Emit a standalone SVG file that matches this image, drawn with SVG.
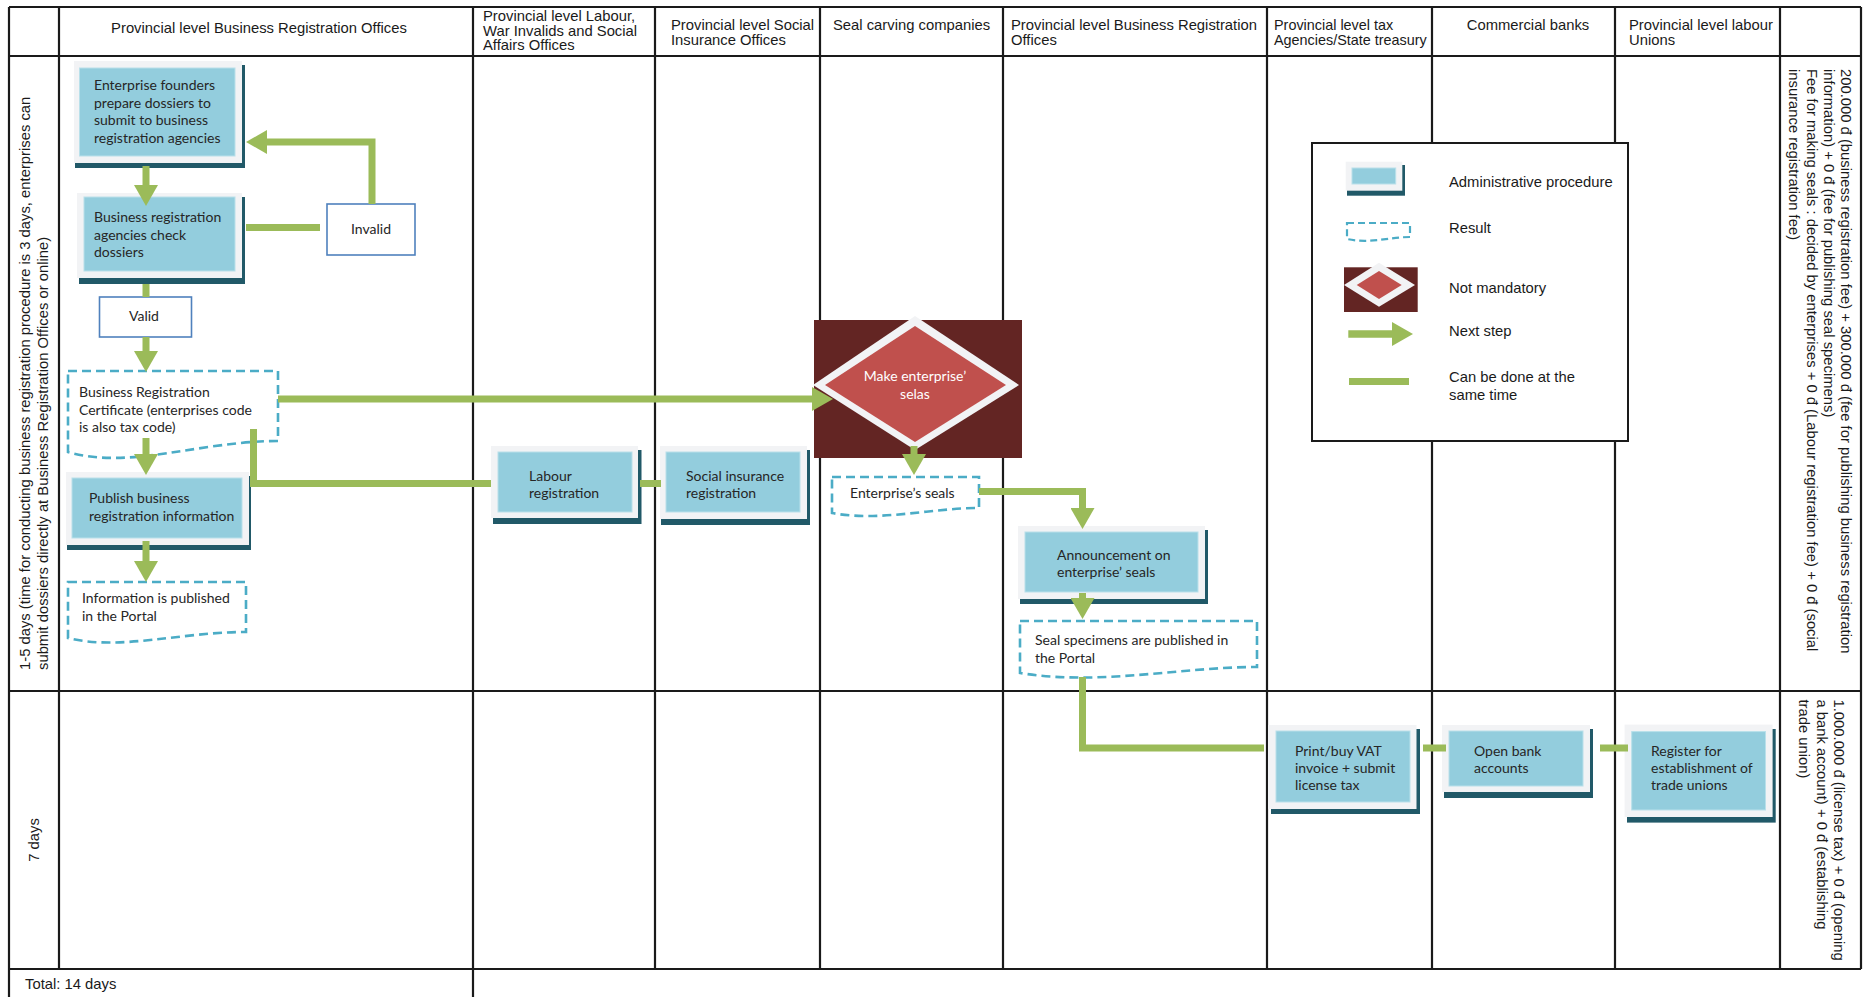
<svg xmlns="http://www.w3.org/2000/svg" width="1867" height="997" viewBox="0 0 1867 997">
<defs>
<style>
.grid{stroke:#1a1a1a;stroke-width:2.2;fill:none}
.hd{font-family:"Liberation Sans",Arial,sans-serif;font-size:14.8px;fill:#1a1a1a}
.nt{font-family:Lato,"Open Sans",sans-serif;font-size:14px;fill:#262626}
.wt{font-family:Lato,"Open Sans",sans-serif;font-size:14px;fill:#ffffff}
.sh{fill:#215968}
.fr{fill:#f2f3f5}
.bl{fill:#93cddd;stroke:#b9e0ea;stroke-width:1}
.res{fill:#ffffff;stroke:#4bacc6;stroke-width:2.6;stroke-dasharray:9 5}
.lab{fill:#ffffff;stroke:#4f81bd;stroke-width:1.6}
.con{fill:none;stroke:#9bbb59;stroke-width:7;stroke-linecap:butt;stroke-linejoin:miter}
</style>
<marker id="ah" markerUnits="userSpaceOnUse" markerWidth="22" markerHeight="24" viewBox="0 0 22 24" refX="0" refY="12" orient="auto">
<path d="M0,0 L21,12 L0,24 Z" fill="#9bbb59"/>
</marker>
</defs>
<rect x="0" y="0" width="1867" height="997" fill="#ffffff"/>

<g id="grid">
<line class="grid" x1="9" y1="7" x2="1861" y2="7"/>
<line class="grid" x1="9" y1="56" x2="1861" y2="56"/>
<line class="grid" x1="9" y1="691" x2="1861" y2="691"/>
<line class="grid" x1="9" y1="969" x2="1861" y2="969"/>
<line class="grid" x1="9" y1="7" x2="9" y2="997"/>
<line class="grid" x1="59" y1="7" x2="59" y2="969"/>
<line class="grid" x1="473" y1="7" x2="473" y2="997"/>
<line class="grid" x1="655" y1="7" x2="655" y2="969"/>
<line class="grid" x1="820" y1="7" x2="820" y2="969"/>
<line class="grid" x1="1003" y1="7" x2="1003" y2="969"/>
<line class="grid" x1="1267" y1="7" x2="1267" y2="969"/>
<line class="grid" x1="1432" y1="7" x2="1432" y2="969"/>
<line class="grid" x1="1615" y1="7" x2="1615" y2="969"/>
<line class="grid" x1="1780" y1="7" x2="1780" y2="969"/>
<line class="grid" x1="1861" y1="7" x2="1861" y2="969"/>
</g>

<g id="headers">
<text class="hd" x="259" y="33" text-anchor="middle">Provincial level Business Registration Offices</text>
<text class="hd" x="483" y="21">Provincial level Labour,</text>
<text class="hd" x="483" y="35.5">War Invalids and Social</text>
<text class="hd" x="483" y="50">Affairs Offices</text>
<text class="hd" x="671" y="30">Provincial level Social</text>
<text class="hd" x="671" y="45">Insurance Offices</text>
<text class="hd" x="833" y="30">Seal carving companies</text>
<text class="hd" x="1011" y="30">Provincial level Business Registration</text>
<text class="hd" x="1011" y="45">Offices</text>
<text class="hd" x="1274" y="30" style="font-size:14.4px">Provincial level tax</text>
<text class="hd" x="1274" y="45" style="font-size:14.4px">Agencies/State treasury</text>
<text class="hd" x="1528" y="30" text-anchor="middle">Commercial banks</text>
<text class="hd" x="1629" y="30">Provincial level labour</text>
<text class="hd" x="1629" y="45">Unions</text>
</g>

<g id="row-labels">
<text class="hd" transform="translate(30,670) rotate(-90)">1-5 days (time for conducting business registration procedure is 3 days, enterprises can</text>
<text class="hd" transform="translate(48,670) rotate(-90)">submit dossiers directly at Business Registration Offices or online)</text>
<text class="hd" transform="translate(39,840) rotate(-90)" text-anchor="middle">7 days</text>
<text class="hd" x="25" y="989">Total: 14 days</text>
</g>

<g id="fee-notes">
<text class="hd" transform="translate(1841,69) rotate(90)">200.000 đ (business registration fee) + 300.000 đ (fee for publishing business registration</text>
<text class="hd" transform="translate(1823.8,69) rotate(90)">information) + 0 đ (fee for publishing seal specimens)</text>
<text class="hd" transform="translate(1806.6,69) rotate(90)">Fee for making seals : decided by enterprises + 0 đ (Labour registration fee) + 0 đ (social</text>
<text class="hd" transform="translate(1789.4,69) rotate(90)">insurance registration fee)</text>
<text class="hd" transform="translate(1834,699.5) rotate(90)">1.000.000 đ (license tax) + 0 đ (opening</text>
<text class="hd" transform="translate(1816.5,699.5) rotate(90)">a bank account) + 0 đ (establishing</text>
<text class="hd" transform="translate(1799,699.5) rotate(90)">trade union)</text>
</g>

<g id="node-founders">
<rect class="sh" x="75" y="65" width="170" height="103"/>
<rect class="fr" x="74" y="61" width="168" height="102"/>
<rect class="bl" x="79.5" y="68" width="155.5" height="88"/>
<text class="nt" x="94" y="90">Enterprise founders</text>
<text class="nt" x="94" y="107.5">prepare dossiers to</text>
<text class="nt" x="94" y="125">submit to business</text>
<text class="nt" x="94" y="142.5">registration agencies</text>
</g>

<g id="node-check">
<rect class="sh" x="79" y="197" width="166" height="87"/>
<rect class="fr" x="77" y="193" width="165" height="85"/>
<rect class="bl" x="84" y="197" width="151" height="74"/>
<text class="nt" x="94" y="222">Business registration</text>
<text class="nt" x="94" y="239.5">agencies check</text>
<text class="nt" x="94" y="257">dossiers</text>
</g>

<g id="node-invalid">
<rect class="lab" x="327" y="204" width="88" height="51"/>
<text class="nt" x="371" y="234" text-anchor="middle">Invalid</text>
</g>

<g id="node-valid">
<rect class="lab" x="99.5" y="297" width="92" height="40"/>
<text class="nt" x="144" y="321" text-anchor="middle">Valid</text>
</g>

<g id="node-certificate">
<path class="res" d="M68,371 H278 V441 C200,441 130,470 68,452 Z"/>
<text class="nt" x="79" y="397">Business Registration</text>
<text class="nt" x="79" y="414.5">Certificate (enterprises code</text>
<text class="nt" x="79" y="432">is also tax code)</text>
</g>

<g id="node-publish">
<rect class="sh" x="67" y="476" width="184" height="74"/>
<rect class="fr" x="66" y="472" width="183" height="73"/>
<rect class="bl" x="72" y="478" width="170" height="60"/>
<text class="nt" x="89" y="503">Publish business</text>
<text class="nt" x="89" y="521">registration information</text>
</g>

<g id="node-published">
<path class="res" d="M68,582 H246 V632 C180,632 120,651 68,638 Z"/>
<text class="nt" x="82" y="603">Information is published</text>
<text class="nt" x="82" y="621">in the Portal</text>
</g>

<g id="node-labour">
<rect class="sh" x="493" y="450" width="148.5" height="74"/>
<rect class="fr" x="491" y="446" width="147" height="72"/>
<rect class="bl" x="498" y="452" width="134" height="60"/>
<text class="nt" x="529" y="481">Labour</text>
<text class="nt" x="529" y="498">registration</text>
</g>

<g id="node-social">
<rect class="sh" x="661" y="450" width="149" height="75"/>
<rect class="fr" x="660" y="446" width="147" height="73"/>
<rect class="bl" x="666" y="452" width="134" height="60"/>
<text class="nt" x="686" y="481">Social insurance</text>
<text class="nt" x="686" y="498">registration</text>
</g>

<g id="node-make-seals">
<rect x="814" y="320" width="208" height="138" fill="#632523"/>
<polygon points="813,385 915,316 1019,385 915,450" fill="#f2f3f5"/>
<polygon points="825,385 915,326 1006,385 915,442" fill="#c0504d"/>
<text class="wt" x="915" y="381" text-anchor="middle">Make enterprise’</text>
<text class="wt" x="915" y="398.5" text-anchor="middle">selas</text>
</g>

<g id="node-seals">
<path class="res" d="M832,477 H979 V508 C930,508 880,522 832,513 Z"/>
<text class="nt" x="850" y="498">Enterprise’s seals</text>
</g>

<g id="node-announcement">
<rect class="sh" x="1020" y="530" width="188" height="74"/>
<rect class="fr" x="1018" y="526" width="187" height="73"/>
<rect class="bl" x="1025" y="532" width="173" height="60"/>
<text class="nt" x="1057" y="560">Announcement on</text>
<text class="nt" x="1057" y="577">enterprise’ seals</text>
</g>

<g id="node-specimens">
<path class="res" d="M1020,621 H1257 V667 C1180,667 1100,686 1020,673 Z"/>
<text class="nt" x="1035" y="645">Seal specimens are published in</text>
<text class="nt" x="1035" y="663">the Portal</text>
</g>

<g id="node-vat">
<rect class="sh" x="1271" y="729" width="149" height="85"/>
<rect class="fr" x="1268" y="725" width="148.5" height="84"/>
<rect class="bl" x="1276" y="731" width="134" height="71"/>
<text class="nt" x="1295" y="756">Print/buy VAT</text>
<text class="nt" x="1295" y="773">invoice + submit</text>
<text class="nt" x="1295" y="789.5">license tax</text>
</g>

<g id="node-bank">
<rect class="sh" x="1444" y="729" width="149" height="69"/>
<rect class="fr" x="1442" y="725" width="148" height="67"/>
<rect class="bl" x="1449" y="731" width="134" height="55"/>
<text class="nt" x="1474" y="756">Open bank</text>
<text class="nt" x="1474" y="773">accounts</text>
</g>

<g id="node-union">
<rect class="sh" x="1627" y="729" width="148.7" height="93.6"/>
<rect class="fr" x="1624.6" y="724.6" width="148" height="92.4"/>
<rect class="bl" x="1631.7" y="731.6" width="133.8" height="78.4"/>
<text class="nt" x="1651" y="756">Register for</text>
<text class="nt" x="1651" y="773">establishment of</text>
<text class="nt" x="1651" y="790">trade unions</text>
</g>

<g id="connectors">
<path class="con" d="M146,166 V185" marker-end="url(#ah)"/>
<path class="con" d="M246,227.5 H320"/>
<path class="con" d="M372,204 V142 H267" marker-end="url(#ah)"/>
<path class="con" d="M146,284 V297"/>
<path class="con" d="M146,337 V351" marker-end="url(#ah)"/>
<path class="con" d="M146,438 V454" marker-end="url(#ah)"/>
<path class="con" d="M146,541 V561" marker-end="url(#ah)"/>
<path class="con" d="M278,399 H812" marker-end="url(#ah)"/>
<path class="con" d="M253.5,429 V483.5 H491"/>
<path class="con" d="M640,483.5 H661"/>
<path class="con" d="M914,446 V454" marker-end="url(#ah)"/>
<path class="con" d="M979,491.5 H1082.5 V508" marker-end="url(#ah)"/>
<path class="con" d="M1082.5,593 V598" marker-end="url(#ah)"/>
<path class="con" d="M1082.5,677 V748 H1264"/>
<path class="con" d="M1423,748 H1446"/>
<path class="con" d="M1600,748 H1628"/>
</g>

<g id="legend">
<rect x="1312" y="143" width="316" height="298" fill="#ffffff" stroke="#1a1a1a" stroke-width="2"/>
<rect class="sh" x="1347" y="165" width="58" height="30.7"/>
<rect class="fr" x="1345.7" y="161.7" width="56.6" height="29"/>
<rect class="bl" x="1352" y="168" width="43.7" height="16"/>
<text class="hd" x="1449" y="187">Administrative procedure</text>
<path class="res" d="M1347,223 H1410 V237 C1390,237 1370,244 1347,239 Z" style="stroke-width:2.2;stroke-dasharray:7 4"/>
<text class="hd" x="1449" y="233">Result</text>
<rect x="1344" y="267.3" width="73.7" height="44.7" fill="#632523"/>
<polygon points="1344,285 1379,262.7 1415,285 1379,306.7" fill="#f2f3f5"/>
<polygon points="1356.7,285 1379,271 1401.7,285 1379,299" fill="#c0504d"/>
<text class="hd" x="1449" y="293">Not mandatory</text>
<path class="con" d="M1348.3,334 H1392" marker-end="url(#ah)" style="stroke-width:7.5"/>
<text class="hd" x="1449" y="336">Next step</text>
<rect x="1349" y="378" width="60" height="7" fill="#9bbb59"/>
<text class="hd" x="1449" y="382">Can be done at the</text>
<text class="hd" x="1449" y="399.5">same time</text>
</g>
</svg>
